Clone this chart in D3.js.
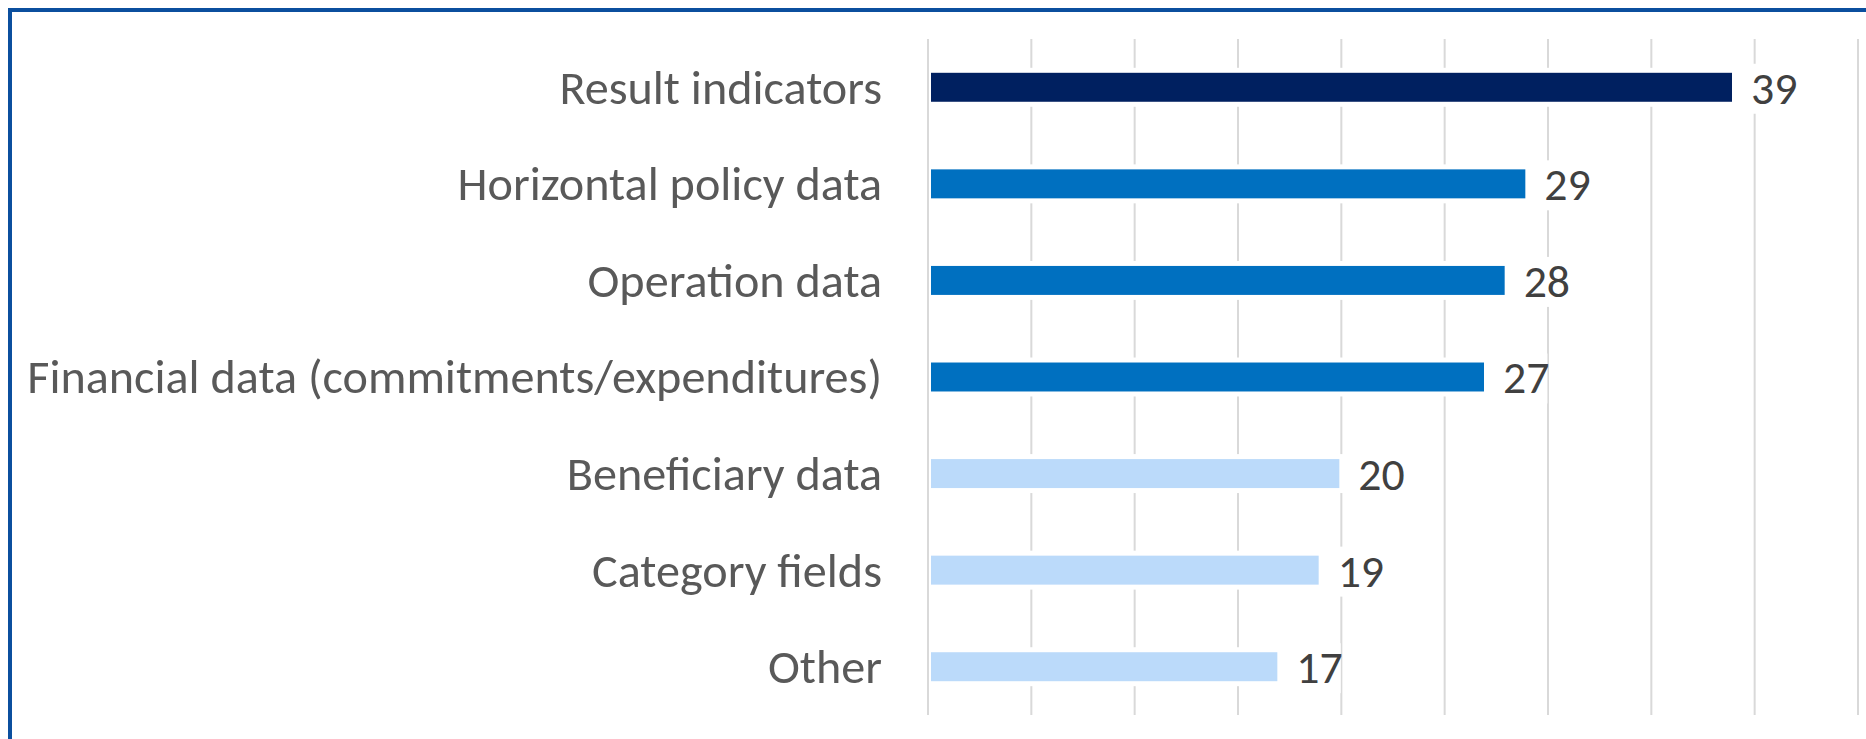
<!DOCTYPE html>
<html>
<head>
<meta charset="utf-8">
<script src="https://cdn.jsdelivr.net/npm/d3@7"></script>
<style>
  html, body { margin: 0; padding: 0; background: #fff; }
  svg { display: block; }
</style>
</head>
<body>
<svg id="chart" width="1866" height="739"></svg>
<script>
// ---- data ----
const categories = [
  "Result indicators",
  "Horizontal policy data",
  "Operation data",
  "Financial data (commitments/expenditures)",
  "Beneficiary data",
  "Category fields",
  "Other"
];
const values = [39, 29, 28, 27, 20, 19, 17];
const barColors = ["#002060", "#0070C0", "#0070C0", "#0070C0", "#BBDAFA", "#BBDAFA", "#BBDAFA"];
const xTicks = [0, 5, 10, 15, 20, 25, 30, 35, 40, 45];

// ---- layout ----
const W = 1866, H = 739;
const plot = { left: 928, right: 1858, top: 39, bottom: 715 };
const FONT = "Carlito, Calibri, Lato, 'Open Sans', sans-serif";

const svg = d3.select("#chart");

// frame border (continues beyond the right/bottom edge)
svg.append("rect")
  .attr("x", 10).attr("y", 10)
  .attr("width", W + 40).attr("height", H + 40)
  .attr("fill", "#fff")
  .attr("stroke", "#0b4f9e")
  .attr("stroke-width", 4);

const x = d3.scaleLinear().domain([0, 45]).range([plot.left, plot.right]);
const y = d3.scaleBand().domain(categories)
  .range([plot.top, plot.bottom])
  .paddingInner(0.7).paddingOuter(0.35);

// gridlines (excluding zero, which is drawn on top as the axis line)
svg.append("g").selectAll("line")
  .data(xTicks.filter(t => t !== 0))
  .join("line")
  .attr("x1", d => x(d)).attr("x2", d => x(d))
  .attr("y1", plot.top).attr("y2", plot.bottom)
  .attr("stroke", "#d9d9d9").attr("stroke-width", 2);

const rows = categories.map((c, i) => ({ c, v: values[i], col: barColors[i] }));

// white halo behind bars
svg.append("g").selectAll("rect")
  .data(rows).join("rect")
  .attr("x", x(0))
  .attr("y", d => y(d.c) - 5)
  .attr("width", d => x(d.v) - x(0) + 4)
  .attr("height", y.bandwidth() + 10)
  .attr("fill", "#fff");

// bars
svg.append("g").selectAll("rect")
  .data(rows).join("rect")
  .attr("x", x(0) + 3)
  .attr("y", d => y(d.c))
  .attr("width", d => x(d.v) - x(0) - 5)
  .attr("height", y.bandwidth())
  .attr("fill", d => d.col);

// zero axis line on top
svg.append("line")
  .attr("x1", x(0)).attr("x2", x(0))
  .attr("y1", plot.top).attr("y2", plot.bottom)
  .attr("stroke", "#d9d9d9").attr("stroke-width", 2);

// category labels: fit font so the longest label spans the measured width
const labelG = svg.append("g");
const labels = labelG.selectAll("text")
  .data(rows).join("text")
  .attr("x", x(0) - 46)
  .attr("text-anchor", "end")
  .attr("font-family", FONT)
  .attr("font-size", 100)
  .attr("fill", "#595959")
  .text(d => d.c);
let maxW = 0;
labels.each(function () { maxW = Math.max(maxW, this.getComputedTextLength()); });
const labelSize = 100 * 855 / maxW;
labels.attr("font-size", labelSize)
  .attr("y", d => y(d.c) + y.bandwidth() / 2)
  .attr("dy", "0.34em");

// value labels with white background
const valueSize = labelSize * 0.95;
const vg = svg.append("g");
const vItems = vg.selectAll("g").data(rows).join("g");
const vText = vItems.append("text")
  .attr("x", d => x(d.v) + 17)
  .attr("y", d => y(d.c) + y.bandwidth() / 2)
  .attr("dy", "0.36em")
  .attr("font-family", FONT)
  .attr("font-size", valueSize)
  .attr("fill", "#404040")
  .text(d => d.v);
vText.each(function () {
  const b = this.getBBox();
  d3.select(this.parentNode).insert("rect", "text")
    .attr("x", b.x + 2).attr("y", b.y + 4)
    .attr("width", b.width - 4).attr("height", b.height - 6)
    .attr("fill", "#fff");
});
</script>
</body>
</html>
